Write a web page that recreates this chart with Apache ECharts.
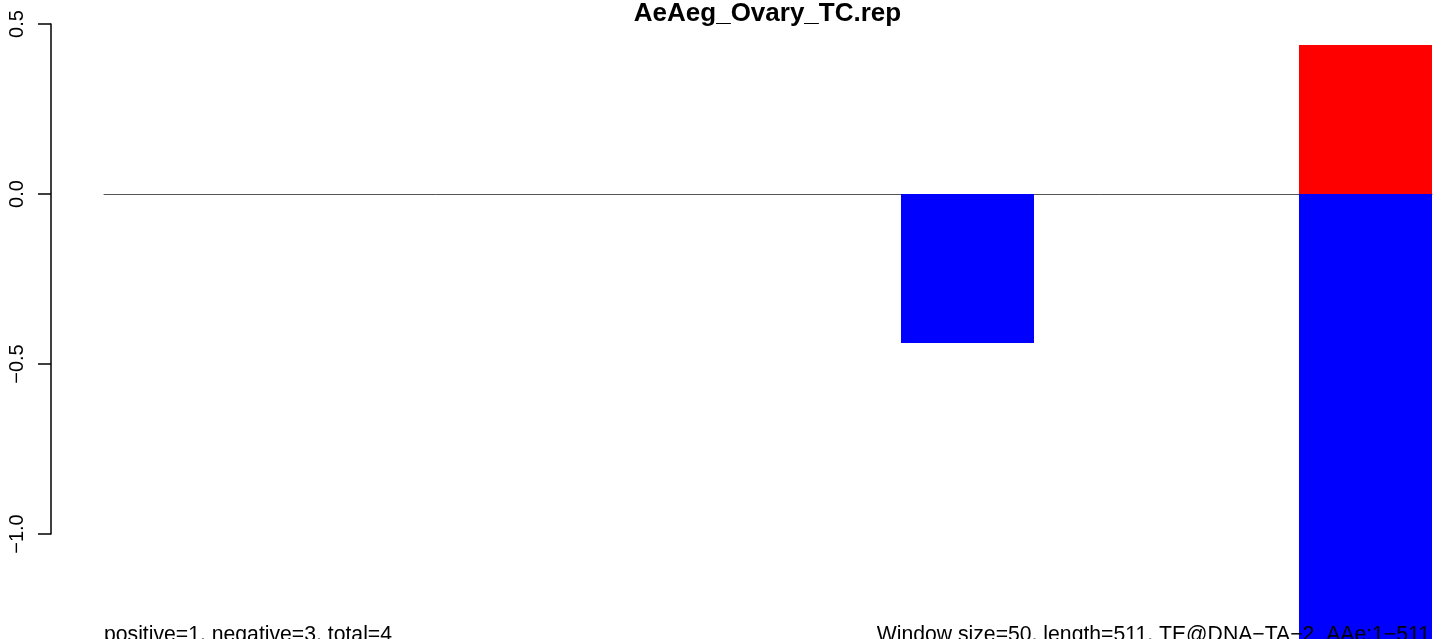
<!DOCTYPE html>
<html>
<head>
<meta charset="utf-8">
<script src="https://cdn.jsdelivr.net/npm/echarts@6/dist/echarts.min.js"></script>
<style>
html,body{margin:0;padding:0;background:#fff;}
#chart{width:1444px;height:639px;}
</style>
</head>
<body>
<div id="chart"></div>
<script>
// ---- data ----
const titleText = "AeAeg_Ovary_TC.rep";
const windows = [1, 2, 3, 4];
const positiveValues = [0, 0, 0, 0.438];
const negativeValues = [0, 0, -0.438, -1.6];
const yTicks = [-1.0, -0.5, 0.0, 0.5];
const leftNote = "positive=1, negative=3, total=4";
const rightNote = "Window size=50, length=511, TE@DNA\u2212TA\u22122_AAe:1\u2212511";

const FONT = "'Liberation Sans', Arial, Helvetica, sans-serif";
const chart = echarts.init(document.getElementById('chart'), null, {renderer: 'canvas'});

const option = {
  backgroundColor: '#ffffff',
  animation: false,
  title: {
    text: titleText,
    left: 767.5,
    top: 1,
    padding: 0,
    textAlign: 'center',
    textStyle: {fontFamily: FONT, fontWeight: 'bold', fontSize: 26, color: '#000'}
  },
  grid: [
    {left: 51, top: 24, height: 510, width: 1, containLabel: false},
    {left: 104, right: 12, top: 24, bottom: 0, containLabel: false}
  ],
  xAxis: [
    {gridIndex: 0, type: 'value', show: false, min: 0, max: 1},
    {gridIndex: 1, type: 'value', min: 0.8304, max: 4.1671,
     axisLine: {show: true, onZero: true, lineStyle: {color: '#555', width: 1}},
     axisTick: {show: false}, axisLabel: {show: false}, splitLine: {show: false}}
  ],
  yAxis: [
    {gridIndex: 0, type: 'value', min: yTicks[0], max: yTicks[yTicks.length - 1], interval: 0.5,
     axisLine: {show: true, lineStyle: {color: '#000', width: 1.5}},
     axisTick: {show: true, length: 13, lineStyle: {color: '#000', width: 1.5}},
     splitLine: {show: false},
     axisLabel: {show: true, rotate: 90, margin: 24, fontFamily: FONT, fontSize: 20, color: '#000',
       formatter: v => (v < 0 ? '\u2212' : '') + Math.abs(v).toFixed(1)}},
    {gridIndex: 1, type: 'value', min: -1.30882, max: 0.5, show: false}
  ],
  series: [
    {type: 'bar', xAxisIndex: 1, yAxisIndex: 1, barWidth: 133, barGap: '-100%',
     itemStyle: {color: '#ff0000'}, clip: true,
     data: windows.map((w, i) => [w, positiveValues[i]])},
    {type: 'bar', xAxisIndex: 1, yAxisIndex: 1, barWidth: 133, barGap: '-100%',
     itemStyle: {color: '#0000ff'}, clip: true,
     data: windows.map((w, i) => [w, negativeValues[i]])}
  ],
  graphic: [
    {type: 'text', z: 100, x: 104, y: 625,
     style: {text: leftNote, font: '21.2px ' + FONT, fill: '#000', textAlign: 'left', textVerticalAlign: 'top'}},
    {type: 'text', z: 100, x: 1430, y: 625,
     style: {text: rightNote, font: '21.2px ' + FONT, fill: '#000', textAlign: 'right', textVerticalAlign: 'top'}}
  ]
};
chart.setOption(option);
</script>
</body>
</html>
